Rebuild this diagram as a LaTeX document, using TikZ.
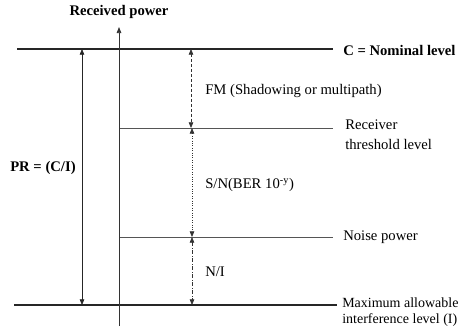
\documentclass[tikz,border=0pt]{standalone}
\usepackage{fontspec}
\setmainfont{Liberation Serif}
\usepackage{tikz}
\usetikzlibrary{arrows.meta,positioning}
\definecolor{LevelGray}{HTML}{555555}
\definecolor{SpanGray}{HTML}{333333}
\tikzset{
  levelline/.style={line width=1.5pt,draw=black!85},
  thinlevel/.style={line width=0.6pt,draw=LevelGray},
  axisarrow/.style={-{Triangle[length=1.6mm,width=1.2mm]},line width=0.6pt,draw=black!80},
  spanarrow/.style={{Triangle[length=1.5mm,width=1.2mm]}-{Triangle[length=1.5mm,width=1.2mm]},line width=0.6pt,draw=SpanGray},
  fmspan/.style={spanarrow,dash pattern=on 2.2pt off 1.5pt},
  snspan/.style={spanarrow,dash pattern=on 0.6pt off 1.2pt},
  nispan/.style={spanarrow,dash pattern=on 3pt off 1.2pt on 0.6pt off 1.2pt},
  levelnote/.style={anchor=west,inner sep=0pt,align=left,font=\fontsize{11}{12}\selectfont},
  boldnote/.style={levelnote,font=\fontsize{11}{12}\selectfont\bfseries}
}

\begin{document}
\begin{tikzpicture}[x=0.75pt,y=-0.75pt]
  \useasboundingbox (0,0) rectangle (461,329);
  % levels
  \coordinate (nomL) at (17,49);   \coordinate (nomR) at (333,49);
  \coordinate (thrL) at (119,128); \coordinate (thrR) at (333,128);
  \coordinate (noiL) at (119,237); \coordinate (noiR) at (333,237);
  \coordinate (intL) at (14,305);  \coordinate (intR) at (337,305);
  \draw[levelline] (nomL) -- (nomR);
  \draw[thinlevel] (thrL) -- (thrR);
  \draw[thinlevel] (noiL) -- (noiR);
  \draw[levelline] (intL) -- (intR);

  % axis
  \node[boldnote,anchor=center] (axislabel) at (119,12) {Received power};
  \coordinate (axisbottom) at (119,326);
  \coordinate (axistop) at (119,27);
  \draw[axisarrow] (axisbottom) -- (axistop);

  % level labels
  \node[boldnote] (nominal) at (343,50) {C = Nominal level};
  \node[levelnote,font=\fontsize{11}{15}\selectfont] (threshold) at (345,135) {Receiver\\threshold level};
  \node[levelnote] (noise) at (343,237) {Noise power};
  \node[levelnote,font=\fontsize{10.5}{12}\selectfont] (interference) at (342,312) {Maximum allowable\\interference level (I)};

  % protection ratio
  \coordinate (prtop) at (82,49);
  \coordinate (prbottom) at (82,305);
  \draw[spanarrow,draw=black!85] (prtop) -- (prbottom);
  \node[boldnote] (pr) at (10,168) {PR = (C/I)};

  % margins
  \coordinate (fmtop) at (191,49);  \coordinate (fmbottom) at (191,128);
  \coordinate (sntop) at (192,128); \coordinate (snbottom) at (192,237);
  \coordinate (nitop) at (192,237); \coordinate (nibottom) at (192,305);
  \draw[fmspan] (fmtop) -- (fmbottom);
  \draw[snspan] (sntop) -- (snbottom);
  \draw[nispan] (nitop) -- (nibottom);
  \node[levelnote] (fm) at (205,91) {FM (Shadowing or multipath)};
  \node[levelnote] (sn) at (205,185) {S/N(BER 10\textsuperscript{-y})};
  \node[levelnote] (ni) at (205,272) {N/I};
\end{tikzpicture}
\end{document}
